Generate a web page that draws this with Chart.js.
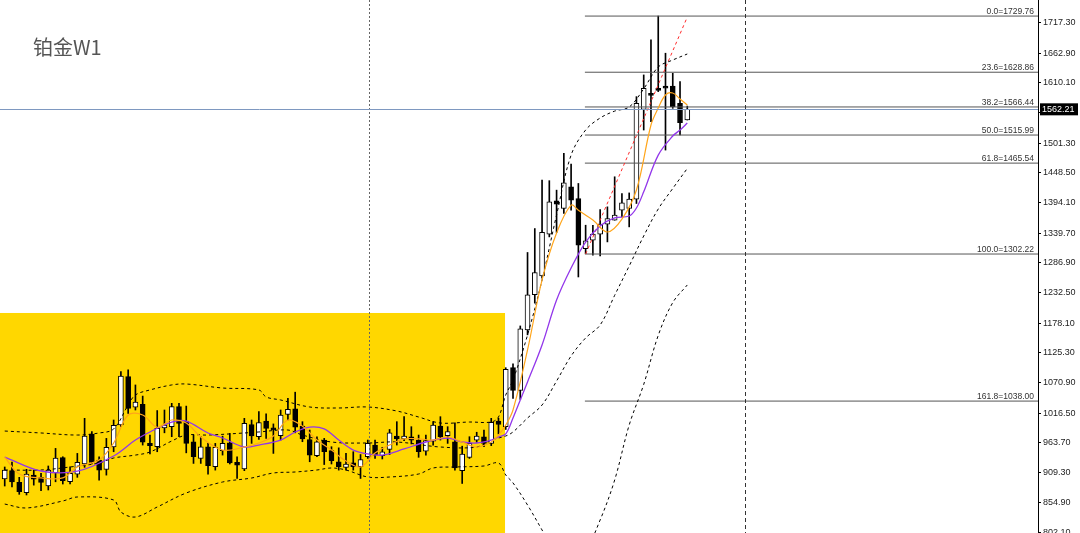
<!DOCTYPE html>
<html>
<head>
<meta charset="utf-8">
<script src="https://cdn.jsdelivr.net/npm/chart.js@4.4.1/dist/chart.umd.min.js"></script>
<style>
html, body { margin: 0; padding: 0; background: #fff; }
#wrap { position: relative; width: 1080px; height: 533px; overflow: hidden; }
#title { position: absolute; left: 33px; top: 37px; font: 20px/20px "Noto Sans CJK SC", sans-serif; color: #555; }
</style>
</head>
<body>
<div id="wrap">
  <canvas id="chart" width="1080" height="533"></canvas>
  <div id="title">铂金W1</div>
</div>
<script>
// weekly candles
const opens = [898,913,892,873.4,905.2,901,885.4,909.3,936.3,893,906.5,925,978.8,932,915.4,955.6,995,1082,1027,1032,
  962,956,990,992,1028,1001,965,935,956,920,949,963,928,916,996,974,1002,990,976,1014,
  1024,993,969,940,968,949,929,919,927,920,938,959,940,951,975,970,974,968,948,966,
  993,976,965,913,937,968,974,962,1002,992,1098,1057,1166,1229,1263,1338,1398,1384,1423,1402,
  1312,1327,1338,1356,1363,1381,1384,1401,1562,1591,1600,1604,1604,1573,1543];
const highs = [919.6,928.6,901,915.4,914,908.3,921.4,953,938,920,944,1007,983,938,971,1004,1091,1094,1067,1047,
  977,1021,1022,1034,1034,1029,977,974,962,962,975,980,938,1007,1004,1019,1015,997,1022,1043,
  1054,1001,986,974,971,956,954,944,947,942,968,968,955,987,1001,1010,992,977,977,1001,
  1010,992,999,957,974,982,986,1007,1007,1098,1105,1173,1305,1348,1435,1434,1417,1483,1464,1429,
  1354,1354,1382,1387,1441,1411,1412,1585,1624,1687,1729.76,1663,1627,1612,1568];
const lows = [885.4,883.7,870.5,869.3,887,877,878.3,893,889,889,901,919,925,896,905,947,992,1016,1022,959,
  943,947,981,974,974,945,926,926,906.5,914,941,925,899,913,962,969,971,944,968,1004,
  981,965,929,938,924,925,914,914,914,899,935,935,934,942,959,967,961,937,941,959,
  968,962,914,890,935,964,956,958,979,987,1043,1041,1157,1214,1259,1333,1341,1375,1381,1261,
  1303,1300,1299,1324,1363,1369,1351,1393,1525,1540,1594,1489,1564,1516,1543];
const closes = [914.2,892.6,875.3,907,897.5,892,914.2,935.8,895,908.3,928,975.3,928,914,955,994.5,1083,1025,1036,964,
  958,989,995,1028,998,962,938,956,922,955,962,927,923,998,975.5,999.5,989,986,1013,1023,
  991,970,941,965,947,931,920,925,920,933,962,941,947,981,970,975,968,947,967,995,
  974,983,918,943,962,975,962,1000,996,1095,1057,1168,1229,1269,1341,1396,1392,1430,1399,1318,
  1326,1338,1356,1366,1372,1394,1401,1573,1600,1587,1596,1600,1567,1538,1562.21];

// fast MA (orange)
const fastIdx = [0,2,5,8,10,13,15,17,19,21,23,25,27,30,33,35,37,39,41,43,45,47,49,51,53,55,57,59,61,63,65,67,68,69,70,72,74,76,78,79,81,83,85,87,89,90,91,92,93,94];
const fastVal = [937.5,907,900,900,919.6,932.2,962.7,1013,1013,991,1004,998.6,973.5,950,955.5,962.7,975.3,1004,993,968,950,930.4,919.6,944.7,959,970,970,968,973.5,964.5,955.5,964.5,977,995,1022,1129.8,1255.6,1340,1390,1381,1363.3,1341.8,1365,1417.2,1534,1564.6,1588,1591.5,1580.7,1570];

// slow MA (purple)
const slowIdx = [0,5,10,15,18,20,23,25,28,30,33,35,38,40,42,44,46,48,50,52,55,58,61,63,65,67,68,69,70,71,72,74,76,78,80,82,84,86,87,88,90,92,93,94];
const slowVal = [937.5,912.4,912,939.4,968,982.5,1000.4,1002,980.7,971.7,955.5,959,968,982.5,991.4,988,968,950,943,941,952,964.5,971.7,964.5,962.7,968,973.5,979,1007.6,1040,1072.3,1138.8,1219.6,1277.1,1323.8,1352.6,1367,1370.5,1384.9,1414,1480,1514.3,1525,1537.6];

// Bollinger bands (dashed)
const bbUpIdx = [0,5,10,13,15,17,18,20,23,25,30,35,36,38,42,46,50,54,57,60,64,67,68,69,70,72,74,76,78,80,82,84,86,88,90,92,94];
const bbUpVal = [984.2,980.7,977,980.7,987.9,1031,1049,1058,1067,1068.7,1061.5,1058,1045.4,1040,1027.4,1025.6,1027.4,1020.2,1009.4,998.6,1000.4,1000.4,1009.4,1049,1076,1156.7,1255.6,1372.3,1480,1525,1546.6,1559,1566.4,1599,1638.2,1650.8,1661.6];
const bbMidIdx = [0,5,9,13,15,18,20,23,25,28,33,35,39,41,45,50,54,60,65,67,69,70,72,74,76,78,80,82,84,86,88,90,92,94];
const bbMidVal = [914.2,914.2,919.6,926.8,935.7,941,946.5,966.3,977,977,980.7,982.5,986,977,964.5,962.7,964.5,955.5,955.5,968,975.3,982.5,1007.6,1031,1074,1119,1151.4,1174.7,1228,1280.7,1334.6,1383.1,1420,1456];
const bbLowIdx = [0,3,8,10,15,16,18,21,25,30,34,37,40,43,45,47,50,53,57,59,62,66,68,69,70,72,74,76,78,80,82,84,86,88,90,92,94];
const bbLowVal = [853,846,858.5,865.7,860.3,838.7,829.7,847.7,872.9,892.6,899.8,908.8,910.6,914.2,917.8,914.2,901.6,901.6,907,917.8,919.6,921.4,926.8,905.2,891,851.3,806.4,761.5,752.5,770.5,824.4,896.2,995,1068,1156,1215,1246.6];

// red trend line
const trendIdx = [80, 94];
const trendVal = [1302.22, 1728];

// fibonacci retracement
const fibLevels = ['0.0', '23.6', '38.2', '50.0', '61.8', '100.0', '161.8'];
const fibValues = [1729.76, 1628.86, 1566.44, 1515.99, 1465.54, 1302.22, 1038.00];

const yTicks = [1717.30,1662.90,1610.10,1555.70,1501.30,1448.50,1394.10,1339.70,1286.90,1232.50,1178.10,1125.30,1070.90,1016.50,963.70,909.30,854.90,802.10];
const lastPrice = 1562.21;

// layout of annotations (in axis units)
const xMin = -0.65, xMax = 142.3;
const yMin = 801.0, yMax = 1758.62;
const boxEnd = 68.9, boxTop = 1196.3;
const fibStart = 79.9;
const vLine1 = 50.2, vLine2 = 101.9;

const pts = (xs, ys) => xs.map((x, i) => ({ x: x, y: ys[i] }));

function bandLine(xs, ys, color, dash, width, order) {
    return {
        type: 'line', data: pts(xs, ys), borderColor: color, borderWidth: width,
        borderDash: dash, pointRadius: 0, fill: false, tension: 0.35, order: order
    };
}

let datasets = [];

datasets.push({
    type: 'bar', label: 'wick',
    data: opens.map((o, i) => ({ x: i, y: [lows[i], highs[i]] })),
    backgroundColor: '#000', borderWidth: 0, barThickness: 1, grouped: false, order: 30
});
datasets.push({
    type: 'bar', label: 'body',
    data: opens.map((o, i) => ({ x: i, y: [o, closes[i]] })),
    backgroundColor: opens.map((o, i) => closes[i] >= o ? '#ffffff' : '#000000'),
    borderColor: '#000', borderWidth: 1, borderSkipped: false,
    barThickness: 5, grouped: false, order: 29
});

fibValues.forEach(v => {
    datasets.push({
        type: 'line', data: [{ x: fibStart, y: v }, { x: xMax, y: v }],
        borderColor: '#555', borderWidth: 1, pointRadius: 0, order: 20
    });
});

datasets.push(bandLine(bbUpIdx, bbUpVal, '#000', [3, 3], 1, 5));
datasets.push(bandLine(bbMidIdx, bbMidVal, '#000', [3, 3], 1, 5));
datasets.push(bandLine(bbLowIdx, bbLowVal, '#000', [3, 3], 1, 5));
datasets.push(bandLine(trendIdx, trendVal, '#ff2a2a', [3, 3], 1, 4));
datasets.push(bandLine(slowIdx, slowVal, '#9236ea', [], 1.3, 3));
datasets.push(bandLine(fastIdx, fastVal, '#ffa51a', [], 1.2, 2));

const decor = {
    id: 'decor',
    beforeDatasetsDraw(chart) {
        const { ctx, chartArea, scales } = chart;
        ctx.save();
        ctx.fillStyle = '#ffd700';
        const x1 = scales.x.getPixelForValue(boxEnd);
        const y1 = scales.y.getPixelForValue(boxTop);
        ctx.fillRect(chartArea.left, y1, x1 - chartArea.left, chartArea.bottom - y1);
        ctx.restore();
    },
    afterDatasetsDraw(chart) {
        const { ctx, chartArea, scales } = chart;
        ctx.save();
        // period separators
        ctx.lineWidth = 1;
        ctx.strokeStyle = '#666';
        ctx.setLineDash([2, 2]);
        let vx = Math.round(scales.x.getPixelForValue(vLine1)) + 0.5;
        ctx.beginPath(); ctx.moveTo(vx, chartArea.top); ctx.lineTo(vx, chartArea.bottom); ctx.stroke();
        ctx.strokeStyle = '#333';
        ctx.setLineDash([4, 3]);
        vx = Math.round(scales.x.getPixelForValue(vLine2)) + 0.5;
        ctx.beginPath(); ctx.moveTo(vx, chartArea.top); ctx.lineTo(vx, chartArea.bottom); ctx.stroke();
        ctx.setLineDash([]);

        // bid line
        const py = Math.round(scales.y.getPixelForValue(lastPrice)) + 0.5;
        ctx.strokeStyle = '#7e98c0';
        ctx.beginPath(); ctx.moveTo(chartArea.left, py); ctx.lineTo(chartArea.right, py); ctx.stroke();

        // fibo labels
        ctx.fillStyle = '#333';
        ctx.font = '8.5px "Liberation Sans", sans-serif';
        ctx.textAlign = 'right';
        ctx.textBaseline = 'alphabetic';
        fibValues.forEach((v, i) => {
            const y = scales.y.getPixelForValue(v);
            ctx.fillText(fibLevels[i] + '=' + v.toFixed(2), chartArea.right - 4, y - 2);
        });
        ctx.restore();
    },
    afterDraw(chart) {
        const { ctx, chartArea, scales } = chart;
        const py = scales.y.getPixelForValue(lastPrice);
        ctx.save();
        ctx.fillStyle = '#000';
        ctx.fillRect(chartArea.right + 2, py - 6, 38, 12);
        ctx.fillStyle = '#fff';
        ctx.font = '9px "Liberation Sans", sans-serif';
        ctx.textAlign = 'left';
        ctx.textBaseline = 'middle';
        ctx.fillText(lastPrice.toFixed(2), chartArea.right + 4, py + 0.5);
        ctx.restore();
    }
};

new Chart(document.getElementById('chart').getContext('2d'), {
    type: 'bar',
    data: { datasets: datasets },
    options: {
        responsive: false,
        animation: false,
        devicePixelRatio: 1,
        layout: { padding: 0 },
        plugins: { legend: { display: false }, tooltip: { enabled: false } },
        scales: {
            x: { type: 'linear', min: xMin, max: xMax, display: false, offset: false },
            y: {
                position: 'right', min: yMin, max: yMax,
                afterBuildTicks: s => { s.ticks = yTicks.map(v => ({ value: v })); },
                afterFit: s => { s.width = 42; s.paddingTop = 0; s.paddingBottom = 0; },
                grid: { drawOnChartArea: false, tickLength: 3, color: '#000' },
                border: { color: '#000', width: 1 },
                ticks: {
                    autoSkip: false, padding: 2, color: '#222',
                    font: { size: 9, family: 'Liberation Sans' },
                    callback: v => Number(v).toFixed(2)
                }
            }
        }
    },
    plugins: [decor]
});
</script>
</body>
</html>
